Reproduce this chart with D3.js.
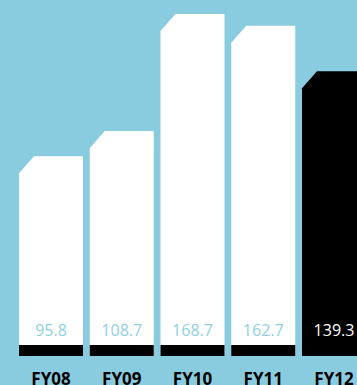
<!DOCTYPE html>
<html><head><meta charset="utf-8">
<script src="https://cdn.jsdelivr.net/npm/d3@7"></script>
<style>html,body{margin:0;padding:0;background:#89cce0;overflow:hidden}</style>
</head><body>
<svg id="c" width="357" height="385"></svg>
<script>
const categories = ["FY08", "FY09", "FY10", "FY11", "FY12"];
const values = [95.8, 108.7, 168.7, 162.7, 139.3];
const valueLabels = ["95.8", "108.7", "168.7", "162.7", "139.3"];

const svg = d3.select("#c");
svg.append("rect").attr("width", 357).attr("height", 385).attr("fill", "#89cce0");

const x = d3.scaleBand().domain(categories).range([19, 366]).paddingInner(0.0954).paddingOuter(0);
const y = d3.scaleLinear().domain([0, 168.7]).range([343, 14]);
const bottom = 356, stripTop = 345;
const cw = 15, ch = 17;
const bw = x.bandwidth();

const g = svg.append("g");
categories.forEach((c, i) => {
  const x0 = x(c), top = y(values[i]);
  const last = i === categories.length - 1;
  const p = `M${x0},${top + ch}V${bottom}H${x0 + bw}V${top}H${x0 + cw}Z`;
  g.append("path").attr("d", p).attr("fill", last ? "#000" : "#fff");
  if (!last) {
    g.append("rect").attr("x", x0).attr("y", stripTop).attr("width", bw).attr("height", bottom - stripTop).attr("fill", "#000");
  }
  g.append("text").attr("x", x0 + bw / 2).attr("y", 336).attr("text-anchor", "middle")
    .attr("font-family", "'Open Sans', sans-serif").attr("font-size", 16)
    .attr("fill", last ? "#fff" : "#8fd0e4").text(valueLabels[i]);
  g.append("text").attr("x", x0 + bw / 2).attr("y", 384.5).attr("text-anchor", "middle")
    .attr("font-family", "'Open Sans', sans-serif").attr("font-size", 17).attr("font-weight", 700)
    .attr("fill", "#000").text(c);
});
</script>
</body></html>
